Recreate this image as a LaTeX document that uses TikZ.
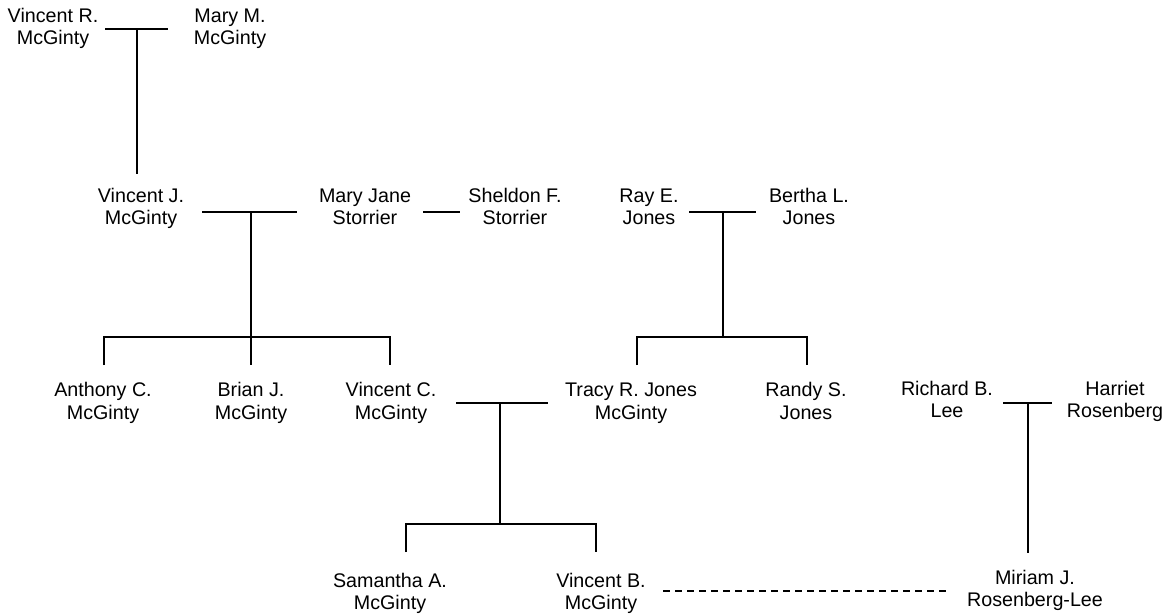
\documentclass[tikz,border=0pt]{standalone}
\usepackage{fontspec}
\setmainfont{Liberation Sans}
\newcommand{\pfont}{\fontsize{19.7}{22.5}\selectfont}
\begin{document}
\begin{tikzpicture}[x=1pt,y=-1pt,
  person/.style={align=center,inner sep=0pt,font=\pfont},
  link/.style={line width=1.8pt,line cap=butt},
  partner/.style={line width=1.8pt,dash pattern=on 7pt off 5pt}]
\useasboundingbox (0,0) rectangle (1170,615);
% people
\node[person] (vr) at (53,29) {\strut Vincent R.\\McGinty\strut};
\node[person] (mm) at (230,29) {\strut Mary M.\\McGinty\strut};
\node[person] (vj) at (141,209) {\strut Vincent J.\\McGinty\strut};
\node[person] (mj) at (365,209) {\strut Mary Jane\\Storrier\strut};
\node[person] (sf) at (515,209) {\strut Sheldon F.\\Storrier\strut};
\node[person] (re) at (649,209) {\strut Ray E.\\Jones\strut};
\node[person] (bl) at (809,209) {\strut Bertha L.\\Jones\strut};
\node[person] (ac) at (103,403.5) {\strut Anthony C.\\McGinty\strut};
\node[person] (bj) at (251,403.5) {\strut Brian J.\\McGinty\strut};
\node[person] (vc) at (391,403.5) {\strut Vincent C.\\McGinty\strut};
\node[person] (tr) at (631,403.5) {\strut Tracy R. Jones\\McGinty\strut};
\node[person] (rs) at (806,403.5) {\strut Randy S.\\Jones\strut};
\node[person] (rb) at (947,402) {\strut Richard B.\\Lee\strut};
\node[person] (hr) at (1115,402) {\strut Harriet\\Rosenberg\strut};
\node[person] (sa) at (390,594) {\strut Samantha A.\\McGinty\strut};
\node[person] (vb) at (601,594) {\strut Vincent B.\\McGinty\strut};
\node[person] (mr) at (1035,591) {\strut Miriam J.\\Rosenberg-Lee\strut};
% junction coordinates
\coordinate (u1l) at (105,29);  \coordinate (u1r) at (168,29);  \coordinate (u1) at (137,29);
\coordinate (c1) at (137,174);
\coordinate (u2l) at (202,212); \coordinate (u2r) at (297,212); \coordinate (u2) at (251,212);
\coordinate (b2) at (251,337);  \coordinate (b2l) at (104,337); \coordinate (b2r) at (390,337);
\coordinate (d2a) at (104,365); \coordinate (d2b) at (251,365); \coordinate (d2c) at (390,365);
\coordinate (s1) at (423,212);  \coordinate (s2) at (460,212);
\coordinate (u3l) at (689,212); \coordinate (u3r) at (756,212); \coordinate (u3) at (723,212);
\coordinate (b3) at (723,337);  \coordinate (b3l) at (637,337); \coordinate (b3r) at (807,337);
\coordinate (d3a) at (637,365); \coordinate (d3b) at (807,365);
\coordinate (u4l) at (456,403); \coordinate (u4r) at (548,403); \coordinate (u4) at (500,403);
\coordinate (b4) at (500,524);  \coordinate (b4l) at (406,524); \coordinate (b4r) at (596,524);
\coordinate (d4a) at (406,552); \coordinate (d4b) at (596,552);
\coordinate (u5l) at (1003,403); \coordinate (u5r) at (1052,403); \coordinate (u5) at (1028,403);
\coordinate (c5) at (1028,553);
\coordinate (p1) at (663,591);  \coordinate (p2) at (950,591);
% connectors
\draw[link] (u1l) -- (u1r);
\draw[link] (u1) -- (c1);
\draw[link] (u2l) -- (u2r);
\draw[link] (u2) -- (b2);
\draw[link] (d2a) -- (b2l) -- (b2r) -- (d2c);
\draw[link] (b2) -- (d2b);
\draw[link] (s1) -- (s2);
\draw[link] (u3l) -- (u3r);
\draw[link] (u3) -- (b3);
\draw[link] (d3a) -- (b3l) -- (b3r) -- (d3b);
\draw[link] (u4l) -- (u4r);
\draw[link] (u4) -- (b4);
\draw[link] (d4a) -- (b4l) -- (b4r) -- (d4b);
\draw[link] (u5l) -- (u5r);
\draw[link] (u5) -- (c5);
\draw[partner] (p1) -- (p2);
\end{tikzpicture}
\end{document}
